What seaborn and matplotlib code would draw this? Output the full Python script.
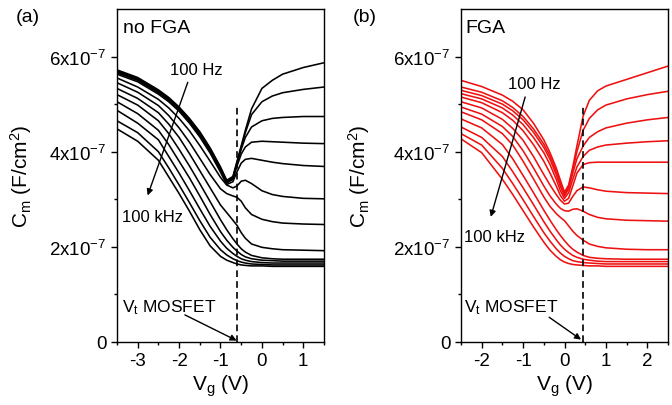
import matplotlib
matplotlib.use("Agg")
import matplotlib.pyplot as plt
import numpy as np
import pandas as pd
import seaborn as sns
from matplotlib.ticker import MultipleLocator, FixedLocator, FuncFormatter

# ---------------- data (capacitance in units of 1e-7 F/cm^2) ----------------
vg_a = [-3.5, -3.0, -2.5, -2.25, -2.0, -1.75, -1.5, -1.25, -1.0, -0.85,
        -0.7, -0.6, -0.5, -0.4, -0.25, 0.0, 0.25, 0.5, 1.0, 1.5]
cm_a = [
    [5.72, 5.56, 5.30, 5.14, 4.94, 4.70, 4.42, 4.08, 3.68, 3.40, 3.48, 3.80, 4.12, 4.45, 4.90, 5.33, 5.50, 5.63, 5.77, 5.87],
    [5.70, 5.54, 5.28, 5.12, 4.92, 4.68, 4.40, 4.06, 3.66, 3.38, 3.46, 3.78, 4.10, 4.40, 4.78, 5.05, 5.17, 5.24, 5.31, 5.36],
    [5.68, 5.52, 5.26, 5.10, 4.90, 4.66, 4.38, 4.04, 3.64, 3.36, 3.44, 3.75, 4.05, 4.30, 4.52, 4.65, 4.70, 4.72, 4.74, 4.74],
    [5.66, 5.50, 5.24, 5.08, 4.88, 4.63, 4.35, 4.01, 3.61, 3.34, 3.42, 3.70, 3.95, 4.10, 4.20, 4.22, 4.21, 4.20, 4.18, 4.17],
    [5.63, 5.47, 5.21, 5.05, 4.85, 4.60, 4.31, 3.97, 3.57, 3.31, 3.37, 3.58, 3.76, 3.84, 3.86, 3.82, 3.78, 3.75, 3.71, 3.69],
    [5.55, 5.36, 5.10, 4.92, 4.70, 4.44, 4.13, 3.80, 3.46, 3.30, 3.24, 3.28, 3.38, 3.40, 3.33, 3.18, 3.10, 3.06, 3.02, 3.01],
    [5.45, 5.25, 4.97, 4.76, 4.50, 4.20, 3.86, 3.52, 3.22, 3.12, 3.07, 3.04, 2.96, 2.82, 2.68, 2.58, 2.53, 2.50, 2.48, 2.47],
    [5.33, 5.12, 4.82, 4.58, 4.30, 3.96, 3.60, 3.24, 2.88, 2.72, 2.56, 2.45, 2.30, 2.18, 2.06, 1.99, 1.96, 1.94, 1.93, 1.92],
    [5.20, 4.98, 4.65, 4.38, 4.05, 3.70, 3.33, 2.95, 2.57, 2.36, 2.17, 2.06, 1.96, 1.89, 1.82, 1.77, 1.75, 1.74, 1.74, 1.74],
    [5.05, 4.80, 4.45, 4.15, 3.80, 3.45, 3.07, 2.68, 2.32, 2.14, 1.99, 1.91, 1.84, 1.79, 1.75, 1.72, 1.71, 1.70, 1.70, 1.70],
    [4.87, 4.60, 4.25, 3.90, 3.55, 3.18, 2.80, 2.43, 2.12, 1.97, 1.86, 1.80, 1.75, 1.72, 1.69, 1.67, 1.66, 1.66, 1.66, 1.66],
    [4.65, 4.40, 4.00, 3.66, 3.30, 2.93, 2.55, 2.20, 1.94, 1.83, 1.75, 1.71, 1.68, 1.66, 1.64, 1.63, 1.62, 1.62, 1.62, 1.62],
    [4.48, 4.22, 3.82, 3.47, 3.12, 2.75, 2.36, 2.02, 1.80, 1.72, 1.67, 1.64, 1.62, 1.61, 1.60, 1.60, 1.59, 1.59, 1.59, 1.59],
]

vg_b = [-2.5, -2.0, -1.5, -1.25, -1.0, -0.75, -0.5, -0.35, -0.2, -0.1, 0.0,
        0.1, 0.2, 0.3, 0.45, 0.6, 0.8, 1.0, 1.5, 2.0, 2.5]
cm_b = [
    [5.50, 5.37, 5.19, 5.06, 4.88, 4.60, 4.25, 3.98, 3.66, 3.40, 3.15, 3.30, 3.68, 4.12, 4.75, 5.08, 5.28, 5.38, 5.52, 5.66, 5.80],
    [5.36, 5.25, 5.07, 4.93, 4.74, 4.48, 4.16, 3.91, 3.59, 3.33, 3.11, 3.26, 3.62, 4.00, 4.45, 4.70, 4.88, 4.98, 5.11, 5.20, 5.27],
    [5.29, 5.18, 5.00, 4.86, 4.67, 4.41, 4.09, 3.84, 3.52, 3.27, 3.07, 3.22, 3.55, 3.85, 4.12, 4.30, 4.42, 4.50, 4.60, 4.67, 4.72],
    [5.22, 5.11, 4.92, 4.77, 4.57, 4.30, 3.98, 3.73, 3.42, 3.18, 3.02, 3.14, 3.42, 3.68, 3.90, 4.03, 4.10, 4.14, 4.18, 4.21, 4.23],
    [5.15, 5.03, 4.82, 4.66, 4.44, 4.15, 3.80, 3.55, 3.28, 3.08, 2.96, 3.02, 3.28, 3.55, 3.73, 3.77, 3.78, 3.78, 3.78, 3.78, 3.78],
    [5.05, 4.92, 4.68, 4.49, 4.24, 3.90, 3.52, 3.30, 3.10, 2.98, 2.90, 2.92, 3.06, 3.18, 3.26, 3.24, 3.20, 3.17, 3.14, 3.13, 3.12],
    [4.94, 4.79, 4.53, 4.32, 4.02, 3.66, 3.28, 3.07, 2.90, 2.81, 2.76, 2.75, 2.79, 2.80, 2.75, 2.68, 2.62, 2.59, 2.56, 2.55, 2.54],
    [4.84, 4.67, 4.38, 4.14, 3.80, 3.43, 3.05, 2.85, 2.70, 2.62, 2.55, 2.44, 2.33, 2.24, 2.14, 2.06, 2.01, 1.98, 1.95, 1.94, 1.94],
    [4.69, 4.50, 4.15, 3.85, 3.50, 3.14, 2.77, 2.56, 2.36, 2.24, 2.13, 2.03, 1.95, 1.89, 1.82, 1.78, 1.76, 1.75, 1.74, 1.74, 1.74],
    [4.52, 4.30, 3.90, 3.58, 3.24, 2.89, 2.53, 2.33, 2.15, 2.04, 1.95, 1.88, 1.82, 1.78, 1.74, 1.72, 1.70, 1.69, 1.69, 1.69, 1.69],
    [4.38, 4.14, 3.65, 3.33, 2.99, 2.64, 2.30, 2.12, 1.96, 1.87, 1.80, 1.75, 1.71, 1.69, 1.67, 1.66, 1.65, 1.64, 1.64, 1.64, 1.64],
    [4.27, 3.98, 3.42, 3.10, 2.76, 2.42, 2.10, 1.93, 1.80, 1.73, 1.68, 1.65, 1.63, 1.62, 1.61, 1.60, 1.60, 1.59, 1.59, 1.59, 1.59],
]

panel_labels = ["(a)", "(b)"]
panel_titles = ["no FGA", "FGA"]
vt_mosfet = [-0.6, 0.45]          # threshold voltage markers (V)
vt_line_top = 5.0                 # top of dashed line (1e-7 F/cm^2)
y_ticks = [0, 2, 4, 6]
y_minor = [1, 3, 5]

# ---------------- style ----------------
sns.set_style("ticks")
plt.rcParams["font.family"] = ["Liberation Sans", "DejaVu Sans"]
plt.rcParams["mathtext.fontset"] = "custom"
plt.rcParams["mathtext.rm"] = "Liberation Sans"
plt.rcParams["mathtext.it"] = "Liberation Sans:italic"
plt.rcParams["mathtext.bf"] = "Liberation Sans:bold"
plt.rcParams["axes.unicode_minus"] = False
for key in ["text.color", "axes.labelcolor", "xtick.color", "ytick.color",
            "axes.edgecolor"]:
    plt.rcParams[key] = "black"


def long_df(vg, curves):
    rows = []
    for i, c in enumerate(curves):
        for x, y in zip(vg, c):
            rows.append((i, x, y * 1e-7))
    return pd.DataFrame(rows, columns=["curve", "Vg", "Cm"])


fig = plt.figure(figsize=(6.72, 4.06), dpi=100)
ax_a = fig.add_axes([117 / 672, 1 - 343 / 406, 207 / 672, 333 / 406])
ax_b = fig.add_axes([461 / 672, 1 - 343 / 406, 207 / 672, 333 / 406])


def ytick_fmt(v, pos):
    n = int(round(v / 1e-7))
    return "0" if n == 0 else f"{n}x10$^{{-7}}$"


settings = [
    dict(ax=ax_a, vg=vg_a, cm=cm_a, color="black", xlim=(-3.5, 1.5),
         label_xy=(28, 18), ylab_x=-0.40,
         hz=(-2.22, 5.63), khz=(-3.38, 2.54), vt_txt=(-3.38, 0.65),
         arr_hz=((-1.79, 5.46), (-2.76, 3.08)),
         arr_vt=((-1.86, 0.57), (-0.61, 0.03)),
         title_xy=(-3.35, 6.52)),
    dict(ax=ax_b, vg=vg_b, cm=cm_b, color="#ee1111", xlim=(-2.5, 2.5),
         label_xy=(365, 18), ylab_x=-0.43,
         hz=(-1.36, 5.34), khz=(-2.43, 2.12), vt_txt=(-2.43, 0.65),
         arr_hz=((-0.95, 5.15), (-1.78, 2.63)),
         arr_vt=((-0.37, 0.52), (0.40, 0.05)),
         title_xy=(-2.40, 6.52)),
]

for k, s in enumerate(settings):
    ax = s["ax"]
    df = long_df(s["vg"], s["cm"])
    sns.lineplot(data=df, x="Vg", y="Cm", units="curve", estimator=None,
                 color=s["color"], lw=1.15, sort=False, ax=ax, legend=False)
    ax.set_xlim(*s["xlim"])
    ax.set_ylim(0, 7e-7)
    ax.yaxis.set_major_locator(FixedLocator([t * 1e-7 for t in y_ticks]))
    ax.yaxis.set_minor_locator(FixedLocator([t * 1e-7 for t in y_minor]))
    ax.yaxis.set_major_formatter(FuncFormatter(ytick_fmt))
    ax.xaxis.set_major_locator(MultipleLocator(1))
    ax.xaxis.set_minor_locator(MultipleLocator(0.5))
    ax.tick_params(which="both", direction="out", top=False, right=False,
                   color="black", width=1)
    ax.tick_params(which="major", length=4.5, labelsize=13.5, pad=3)
    ax.tick_params(which="minor", length=2.5)
    for sp in ax.spines.values():
        sp.set_visible(True)
        sp.set_color("black")
        sp.set_linewidth(1.0)

    ax.set_ylabel("C$_\\mathrm{m}$ (F/cm$^2$)", fontsize=15)
    ax.set_xlabel("V$_\\mathrm{g}$ (V)", fontsize=15)
    ax.yaxis.set_label_coords(s["ylab_x"], 0.5)
    ax.xaxis.set_label_coords(0.5, -0.092)

    vt = vt_mosfet[k]
    ax.plot([vt, vt], [0, vt_line_top * 1e-7], color="black", lw=1.2,
            ls=(0, (4, 2.5)))

    ax.text(s["title_xy"][0], s["title_xy"][1] * 1e-7, panel_titles[k],
            fontsize=14, ha="left", va="baseline")
    ax.text(s["hz"][0], s["hz"][1] * 1e-7, "100 Hz", fontsize=12,
            ha="left", va="baseline")
    ax.text(s["khz"][0], s["khz"][1] * 1e-7, "100 kHz", fontsize=12,
            ha="left", va="baseline")
    ax.text(s["vt_txt"][0], s["vt_txt"][1] * 1e-7, "V$_\\mathrm{t}$ MOSFET",
            fontsize=12.5, ha="left", va="baseline")

    for (x0, y0), (x1, y1) in [s["arr_hz"], s["arr_vt"]]:
        ax.annotate("", xy=(x1, y1 * 1e-7), xytext=(x0, y0 * 1e-7),
                    arrowprops=dict(arrowstyle="-|>", color="black", lw=1.0,
                                    mutation_scale=9, shrinkA=0, shrinkB=0))

    fig.text(s["label_xy"][0] / 672, 1 - s["label_xy"][1] / 406,
             panel_labels[k], fontsize=14, ha="center", va="center")

fig.savefig("out.png", dpi=100)
